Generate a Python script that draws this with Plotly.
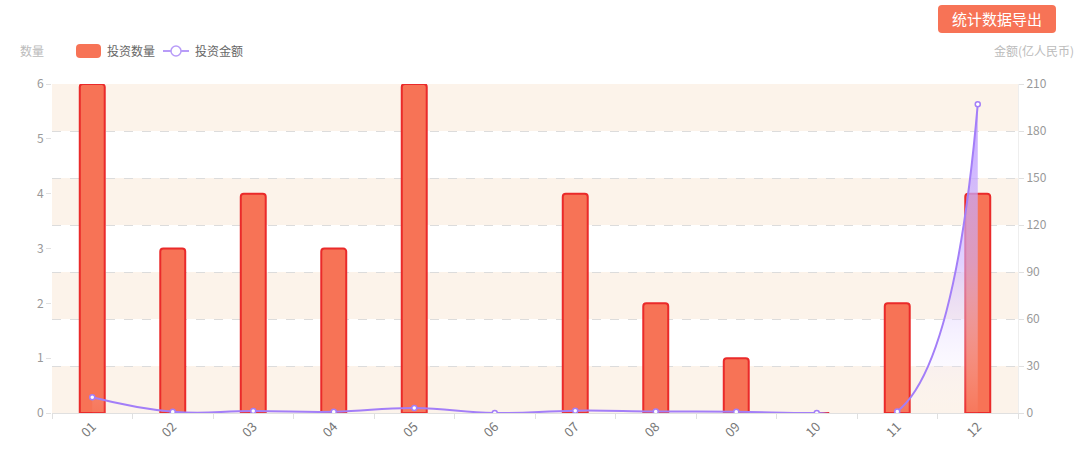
import plotly.graph_objects as go

months = ["01", "02", "03", "04", "05", "06", "07", "08", "09", "10", "11", "12"]
invest_count = [6, 3, 4, 3, 6, 0, 4, 2, 1, 0, 2, 4]
invest_amount = [10, 0.8, 1.3, 0.8, 3.2, 0, 1.5, 1, 0.8, 0, 1, 197]
left_ticks = [0, 1, 2, 3, 4, 5, 6]
right_ticks = [0, 30, 60, 90, 120, 150, 180, 210]

FONT = "Noto Sans CJK SC, Microsoft YaHei, sans-serif"
CORAL = "#f77356"
RED = "#ea2a2a"
PURPLE = "#a37ef8"
BAND = "#fcf3ea"

W, H = 1080, 462
ML, MR, MT, MB = 52, 62, 84, 49
PW, PH = W - ML - MR, H - MT - MB


def px(x):
    return (x - ML) / PW


def py(y):
    return (H - MB - y) / PH


def rrect(x0, y0, x1, y1, r):
    pts = [
        f"M{px(x0 + r)},{py(y0)}",
        f"L{px(x1 - r)},{py(y0)}",
        f"Q{px(x1)},{py(y0)} {px(x1)},{py(y0 + r)}",
        f"L{px(x1)},{py(y1 - r)}",
        f"Q{px(x1)},{py(y1)} {px(x1 - r)},{py(y1)}",
        f"L{px(x0 + r)},{py(y1)}",
        f"Q{px(x0)},{py(y1)} {px(x0)},{py(y1 - r)}",
        f"L{px(x0)},{py(y0 + r)}",
        f"Q{px(x0)},{py(y0)} {px(x0 + r)},{py(y0)}",
        "Z",
    ]
    return " ".join(pts)


fig = go.Figure()
fig.add_trace(go.Bar(
    x=months, y=invest_count, name="投资数量", yaxis="y",
    width=0.31,
    marker=dict(color=CORAL, line=dict(color=RED, width=2), cornerradius=3),
    hoverinfo="skip",
))
fig.add_trace(go.Scatter(
    x=months, y=invest_amount, name="投资金额", yaxis="y2",
    mode="lines+markers",
    line=dict(color=PURPLE, width=2, shape="spline", smoothing=1.3),
    marker=dict(size=5, color="white", line=dict(color=PURPLE, width=1.5)),
    fill="tozeroy",
    fillgradient=dict(type="vertical",
                      colorscale=[[0, "rgba(255,255,255,0)"], [0.5, "rgba(205,180,255,0.6)"],
                                  [1, "rgba(190,155,255,0.9)"]]),
    hoverinfo="skip",
))

shapes = []
for i in range(len(right_ticks) - 1):
    if i % 2 == 0:
        shapes.append(dict(type="rect", xref="paper", yref="y2", x0=0, x1=1,
                           y0=right_ticks[i], y1=right_ticks[i + 1],
                           fillcolor=BAND, line=dict(width=0), layer="below"))
# export button
shapes.append(dict(type="path", xref="paper", yref="paper", path=rrect(938, 5, 1056, 33, 4),
                   fillcolor=CORAL, line=dict(width=0), layer="above"))
# custom legend icons
shapes.append(dict(type="path", xref="paper", yref="paper", path=rrect(76, 44, 101, 58, 4),
                   fillcolor=CORAL, line=dict(width=0), layer="above"))
shapes.append(dict(type="line", xref="paper", yref="paper", x0=px(163), x1=px(189),
                   y0=py(51), y1=py(51), line=dict(color="#b89cf8", width=2), layer="above"))
shapes.append(dict(type="circle", xref="paper", yref="paper", x0=px(171), x1=px(181),
                   y0=py(56), y1=py(46), fillcolor="white",
                   line=dict(color="#b89cf8", width=1.5), layer="above"))

fig.update_layout(
    width=W, height=H,
    margin=dict(l=ML, r=MR, t=MT, b=MB),
    paper_bgcolor="white", plot_bgcolor="white",
    font=dict(family=FONT, size=12, color="#999"),
    showlegend=False,
    xaxis=dict(type="category", categoryorder="array", categoryarray=months,
               tickangle=-45, tickson="boundaries", ticks="outside", ticklen=5,
               tickcolor="#e0e0e0", showline=True, linecolor="#e0e0e0", linewidth=1,
               showgrid=False, tickfont=dict(size=13, color="#777"), fixedrange=True),
    yaxis=dict(range=[0, 6], tickvals=left_ticks, showgrid=False, zeroline=False,
               ticks="outside", ticklen=5, tickcolor="#e0e0e0", showline=False,
               tickfont=dict(size=12, color="#999"), fixedrange=True),
    yaxis2=dict(range=[0, 210], tickvals=right_ticks, overlaying="y", side="right",
                showgrid=True, gridcolor="#dcdcdc", griddash="dash", gridwidth=1,
                zeroline=False, ticks="outside", ticklen=5, tickcolor="#e0e0e0",
                showline=True, linecolor="#eeeeee",
                tickfont=dict(size=12, color="#999"), fixedrange=True),
    shapes=shapes,
    annotations=[
        dict(text="数量", xref="paper", yref="paper", x=px(32), y=py(51),
             showarrow=False, font=dict(size=12, color="#bbb"), xanchor="center", yanchor="middle"),
        dict(text="金额(亿人民币)", xref="paper", yref="paper", x=px(1076), y=py(51),
             showarrow=False, font=dict(size=12, color="#bbb"), xanchor="right", yanchor="middle"),
        dict(text="统计数据导出", xref="paper", yref="paper", x=px(997), y=py(19),
             showarrow=False, font=dict(size=15, color="white"), xanchor="center", yanchor="middle"),
        dict(text="投资数量", xref="paper", yref="paper", x=px(105), y=py(51),
             showarrow=False, font=dict(size=12, color="#666"), xanchor="left", yanchor="middle"),
        dict(text="投资金额", xref="paper", yref="paper", x=px(193), y=py(51),
             showarrow=False, font=dict(size=12, color="#666"), xanchor="left", yanchor="middle"),
    ],
)

fig.write_html("out.html", config={"displayModeBar": False},
               post_script="document.body.style.margin='0';")
